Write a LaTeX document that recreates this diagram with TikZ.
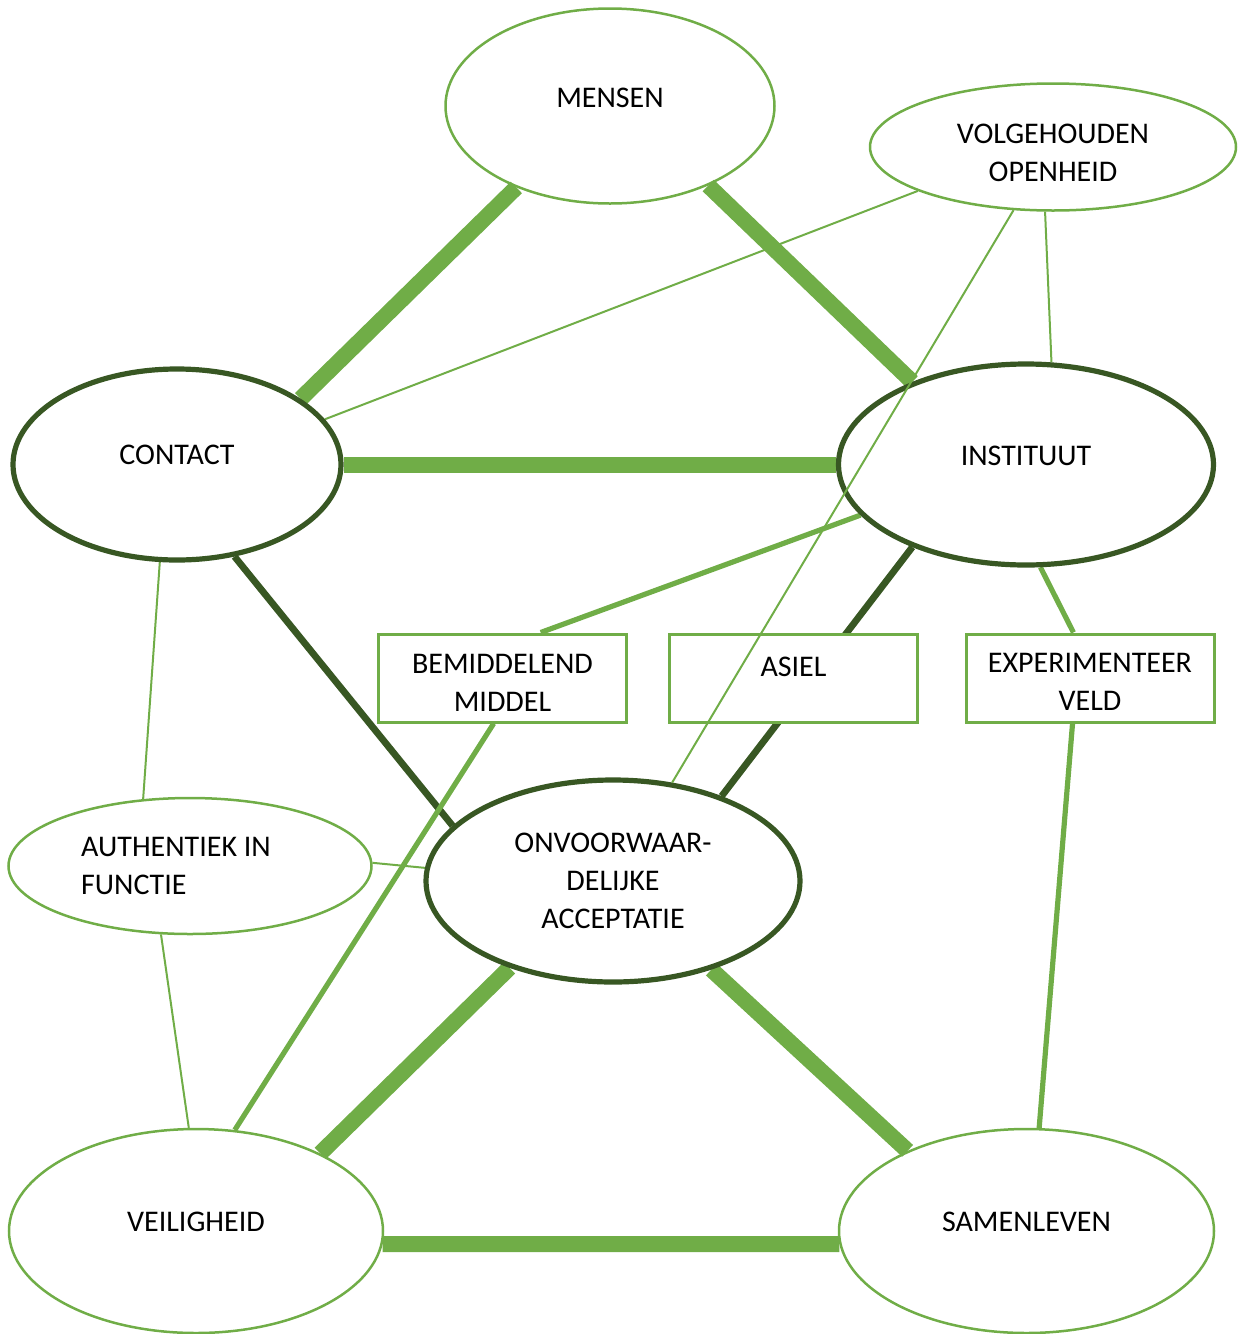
\documentclass[tikz,border=0pt]{standalone}
\usepackage{fontspec}
\setmainfont{Carlito}
\usetikzlibrary{shapes.geometric}
\definecolor{lg}{HTML}{70AD47}
\definecolor{dg}{HTML}{385723}
\pgfdeclarelayer{background}
\pgfsetlayers{background,main}
\begin{document}
\begin{tikzpicture}[x=0.5pt,y=-0.5pt,
 lightell/.style={ellipse, draw=lg, line width=1.25pt, inner sep=0pt},
 darkell/.style={ellipse, draw=dg, line width=2.6pt, inner sep=0pt},
 boxnode/.style={rectangle, draw=lg, fill=white, line width=1.5pt, inner sep=0pt, minimum width=124pt, minimum height=44pt},
 txt/.style={font=\fontsize{15}{19}\selectfont, align=center, inner sep=0pt},
 conthick/.style={draw=lg, line width=8pt},
 conmed/.style={draw=lg, line width=2.6pt},
 conthin/.style={draw=lg, line width=1pt},
 condark/.style={draw=dg, line width=3.4pt},
]
\useasboundingbox (0,0) rectangle (1239,1334);

\node[lightell, minimum width=164.5pt, minimum height=97.5pt,
  label={[txt, yshift=4pt]center:MENSEN}] (mensen) at (610,106) {};
\node[lightell, minimum width=183pt, minimum height=63.5pt,
  label={[txt, yshift=-3pt]center:{VOLGEHOUDEN\\OPENHEID}}] (volg) at (1053,147) {};
\node[darkell, minimum width=164pt, minimum height=95.5pt,
  label={[txt, yshift=5pt]center:CONTACT}] (contact) at (177,464.5) {};
\node[darkell, minimum width=187.5pt, minimum height=100.5pt,
  label={[txt, yshift=4.5pt]center:INSTITUUT}] (inst) at (1026,464.5) {};
\node[lightell, minimum width=181.5pt, minimum height=68pt,
  label={[txt, align=left, xshift=-7pt]center:{AUTHENTIEK IN\\FUNCTIE}}] (auth) at (190,866) {};
\node[darkell, minimum width=187pt, minimum height=101pt,
  label={[txt]center:{ONVOORWAAR-\\DELIJKE\\ACCEPTATIE}}] (onv) at (613,881) {};
\node[lightell, minimum width=187pt, minimum height=102pt,
  label={[txt, yshift=4.5pt]center:VEILIGHEID}] (veil) at (196,1231) {};
\node[lightell, minimum width=187.5pt, minimum height=102pt,
  label={[txt, yshift=4.5pt]center:SAMENLEVEN}] (samen) at (1026.5,1231) {};

\node[boxnode, label={[txt, yshift=-2.5pt]center:{BEMIDDELEND\\MIDDEL}}] (bem) at (502.5,678) {};
\node[boxnode, label={[txt, yshift=5.5pt]center:ASIEL}] (asiel) at (793.5,678) {};
\node[boxnode, label={[txt, yshift=-2pt]center:{EXPERIMENTEER\\VELD}}] (exp) at (1090,678) {};

\begin{pgfonlayer}{background}
\draw[conthick] (mensen.221.7) -- (contact.28.2);
\draw[conthick] (mensen.321.1) -- (inst.144.3);
\draw[conthick] (contact.0) -- (inst.180);
\draw[conthin] (volg.198.4) -- (contact.17.2);
\draw[conthin] (volg.263.9) -- (inst.76.9);
\draw[conmed] (inst.197.1) -- (bem.50.2);
\draw[condark] (inst.216.8) -- (onv.38.8);
\draw[conmed] (inst.278.8) -- (exp.110.7);
\draw[conmed] (exp.249.3) -- (samen.83.2);
\draw[condark] (contact.-58.5) -- (onv.161.1);
\draw[conthin] (contact.260.7) -- (auth.125.2);
\draw[conmed] (bem.259.3) -- (veil.69.7);
\draw[conthin] (auth.1.9) -- (onv.176);
\draw[conthin] (auth.247.9) -- (veil.94.4);
\draw[conthick] (onv.220.7) -- (veil.32.2);
\draw[conthick] (onv.318.6) -- (samen.146.5);
\draw[conthick] (veil.-4.3) -- (samen.184.3);
\end{pgfonlayer}
\draw[conthin] (volg.238.8) -- (onv.59.5);
\end{tikzpicture}
\end{document}
